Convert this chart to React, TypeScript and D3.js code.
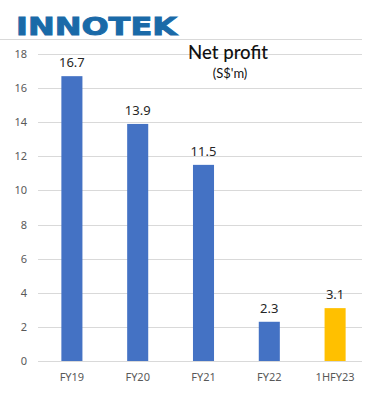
import React from "react";
import * as d3 from "d3";

const categories = ["FY19", "FY20", "FY21", "FY22", "1HFY23"];
const values = [16.7, 13.9, 11.5, 2.3, 3.1];
const barColors = ["#4472C4", "#4472C4", "#4472C4", "#4472C4", "#FFC000"];
const yTicks = [0, 2, 4, 6, 8, 10, 12, 14, 16, 18];

const W = 368;
const H = 402;

export default function App() {
  const x = d3.scaleBand<string>().domain(categories).range([39, 368]).paddingInner(0.68).paddingOuter(0.34);
  const y = d3.scaleLinear().domain([0, 18]).range([361, 54]);
  const gridX1 = 38;
  const gridX2 = 362;
  return (
    <svg width={W} height={H} style={{ position: "absolute", left: 0, top: 0, background: "#fff" }}>
      <rect x={0} y={0} width={W} height={H} fill="#fff" />
      <text
        x={16}
        y={35}
        fontFamily="DejaVu Sans"
        fontWeight="bold"
        fontSize={24}
        fill="#1a6aa8"
        stroke="#1a6aa8"
        strokeWidth={0.9}
        textLength={161}
        lengthAdjust="spacingAndGlyphs"
      >
        INNOTEK
      </text>
      <line x1={0} x2={gridX2} y1={39.5} y2={39.5} stroke="#d9d9d9" strokeWidth={1} />
      {yTicks.map((t) => (
        <g key={t}>
          <line x1={gridX1} x2={gridX2} y1={Math.round(y(t)) + 0.5} y2={Math.round(y(t)) + 0.5} stroke="#d9d9d9" strokeWidth={1} />
          <text x={27} y={y(t) + 4} textAnchor="end" fontFamily="Noto Sans" fontSize={11} fill="#595959">
            {t}
          </text>
        </g>
      ))}
      {categories.map((c, i) => (
        <g key={c}>
          <rect x={x(c)} y={y(values[i])} width={x.bandwidth()} height={y(0) - y(values[i])} fill={barColors[i]} />
          <text
            x={(x(c) as number) + x.bandwidth() / 2}
            y={y(values[i]) - 9}
            textAnchor="middle"
            fontFamily="Noto Sans"
            fontSize={13}
            fill="#262626"
          >
            {values[i]}
          </text>
          <text
            x={(x(c) as number) + x.bandwidth() / 2}
            y={381}
            textAnchor="middle"
            fontFamily="Noto Sans"
            fontSize={11}
            fill="#595959"
          >
            {c}
          </text>
        </g>
      ))}
      <text x={228} y={59} textAnchor="middle" fontFamily="Lato" fontWeight={500} fontSize={20} fill="#111" textLength={80} lengthAdjust="spacingAndGlyphs">
        Net profit
      </text>
      <text x={230} y={78} textAnchor="middle" fontFamily="Lato" fontSize={13} fill="#111">
        (S$'m)
      </text>
    </svg>
  );
}
